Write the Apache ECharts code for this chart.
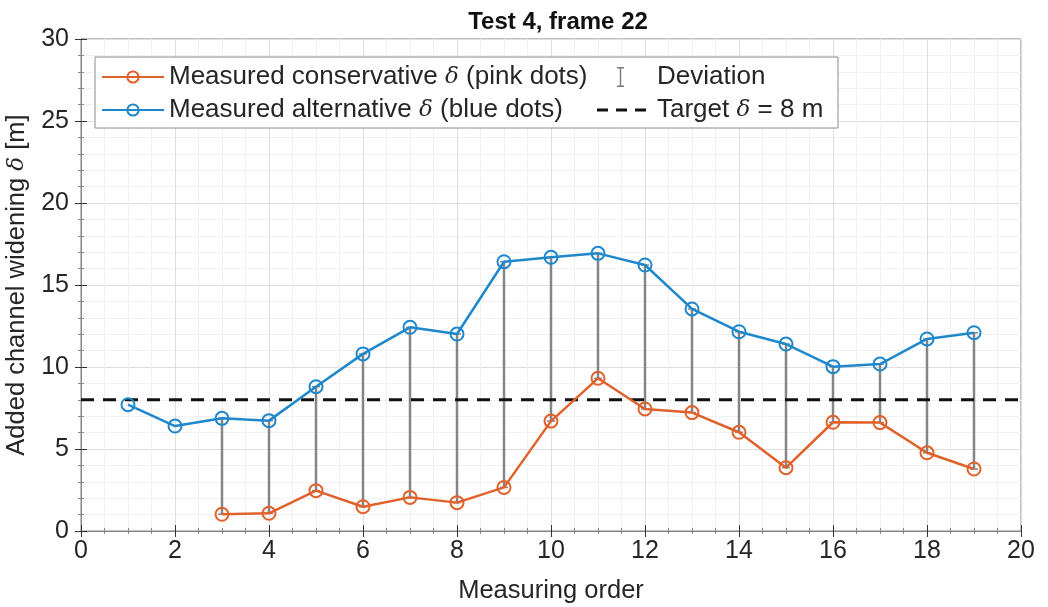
<!DOCTYPE html>
<html>
<head>
<meta charset="utf-8">
<script src="https://cdn.jsdelivr.net/npm/echarts@6/dist/echarts.min.js"></script>
<style>html,body{margin:0;padding:0;background:#fff}#c{width:1048px;height:607px}</style>
</head>
<body>
<div id="c"></div>
<script>
// ---- data ----
const order = [1,2,3,4,5,6,7,8,9,10,11,12,13,14,15,16,17,18,19];
const alternative = [7.7,6.4,6.87,6.73,8.8,10.8,12.42,12.01,16.42,16.69,16.93,16.22,13.54,12.15,11.4,10.02,10.18,11.71,12.09];
const conservative = [null,null,1.02,1.08,2.46,1.48,2.05,1.73,2.66,6.7,9.31,7.44,7.22,6.02,3.86,6.63,6.61,4.77,3.78];
const target = 8;
const xTicks = [0,2,4,6,8,10,12,14,16,18,20];
const yTicks = [0,5,10,15,20,25,30];

const ORANGE = '#E0612B', BLUE = '#1F87CB', GRAY = '#858585', TXT = '#262626';
const FONT = 'Liberation Sans, Arial, sans-serif';
const FS_TICK = 25, FS_NAME = 25.5, FS_LEG = 26;

const altData = order.map((x,i)=>[x, alternative[i]]);
const conData = order.map((x,i)=>conservative[i]==null ? null : [x, conservative[i]]).filter(d=>d);
const devData = order.map((x,i)=>conservative[i]==null ? null : [x, conservative[i], alternative[i]]).filter(d=>d);
const tgtData = [[xTicks[0], target],[xTicks[xTicks.length-1], target]];

const chart = echarts.init(document.getElementById('c'), null, {renderer:'canvas'});
const richL = {i:{fontFamily:'DejaVu Serif, Liberation Serif, serif', fontStyle:'italic', fontSize:23, color:TXT}};
const iconDev = 'path://M0,0L0.01,0L0,0.01Z M56,22L55.99,22L56,21.99Z M21,1H28V2.4H25.2V19.6H28V21H21V19.6H23.8V2.4H21Z';
const iconTgt = 'path://M0,0L0.01,0L0,0.01Z M56,22L55.99,22L56,21.99Z M1,9.5H12V12.5H1Z M20,9.5H31V12.5H20Z M39,9.5H50V12.5H39Z';

const baseX = {
  type:'value', min:0, max:20, interval:2,
  axisLine:{show:true, lineStyle:{color:GRAY}},
  axisTick:{show:true, inside:true, length:6, lineStyle:{color:'#333'}},
  minorTick:{show:true, splitNumber:4, length:3, lineStyle:{color:'#888'}},
};
const baseY = {
  type:'value', min:0, max:30, interval:5,
  axisLine:{show:true, lineStyle:{color:GRAY}},
  axisTick:{show:true, inside:true, length:6, lineStyle:{color:'#333'}},
  minorTick:{show:true, splitNumber:5, length:3, lineStyle:{color:'#888'}},
};

chart.setOption({
  animation:false,
  backgroundColor:'#fff',
  title:{text:'Test 4, frame 22', left:553, textAlign:'center', top:5,
    textStyle:{fontFamily:FONT, fontSize:24, fontWeight:'bold', color:'#111'}},
  grid:{left:81, right:27, top:39, bottom:76, show:true, borderColor:GRAY, borderWidth:1,
    containLabel:false, outerBoundsMode:'none'},
  xAxis:[
    Object.assign({}, baseX, {position:'bottom',
      name:'Measuring order', nameLocation:'middle', nameGap:47,
      nameTextStyle:{fontFamily:FONT, fontSize:FS_NAME, color:TXT},
      axisLabel:{fontFamily:FONT, fontSize:FS_TICK, color:TXT, margin:8},
      splitLine:{show:true, lineStyle:{color:'#dedede'}},
      minorSplitLine:{show:true, lineStyle:{color:'#f1f1f1'}}}),
    Object.assign({}, baseX, {position:'top', axisLabel:{show:false}, splitLine:{show:false}})
  ],
  yAxis:[
    Object.assign({}, baseY, {position:'left',
      name:'Added channel widening {i|δ} [m]', nameLocation:'middle', nameGap:47, nameRotate:90,
      nameTextStyle:{fontFamily:FONT, fontSize:FS_NAME, color:TXT, rich:richL},
      axisLabel:{fontFamily:FONT, fontSize:FS_TICK, color:TXT, margin:12},
      splitLine:{show:true, lineStyle:{color:'#dedede'}},
      minorSplitLine:{show:true, lineStyle:{color:'#f1f1f1'}}}),
    Object.assign({}, baseY, {position:'right', axisLabel:{show:false}, splitLine:{show:false}})
  ],
  graphic:[{type:'rect', z:3, shape:{x:95, y:57, width:743, height:71},
    style:{fill:'#fff', stroke:'#8a8a8a', lineWidth:1}}],
  legend:[
    {left:96, top:59, orient:'vertical', itemGap:7, itemWidth:62, itemHeight:14, z:5,
      textStyle:{fontFamily:FONT, fontSize:FS_LEG, lineHeight:26, color:TXT, rich:richL},
      formatter:n=>n.replace('δ','{i|δ}'),
      data:['Measured conservative δ (pink dots)','Measured alternative δ (blue dots)']},
    {left:591, top:59, orient:'vertical', itemGap:7, itemWidth:56, itemHeight:22, z:5,
      textStyle:{fontFamily:FONT, fontSize:FS_LEG, lineHeight:26, color:TXT, rich:richL},
      formatter:n=>n.replace('δ','{i|δ}'),
      data:[{name:'Deviation', icon:iconDev, itemStyle:{color:'#7a7a7a'}},
            {name:'Target δ = 8 m', icon:iconTgt, itemStyle:{color:'#111'}}]}
  ],
  series:[
    {name:'Deviation', type:'custom', z:2, data:devData,
      itemStyle:{color:GRAY},
      renderItem:(params, api)=>{
        const lo = api.coord([api.value(0), api.value(1)]);
        const hi = api.coord([api.value(0), api.value(2)]);
        const st = {stroke:GRAY, lineWidth:2.5};
        return {type:'group', children:[
          {type:'line', shape:{x1:lo[0], y1:lo[1], x2:hi[0], y2:hi[1]}, style:st},
          {type:'line', shape:{x1:lo[0]-4, y1:lo[1], x2:lo[0]+4, y2:lo[1]}, style:{stroke:GRAY, lineWidth:1.5}},
          {type:'line', shape:{x1:hi[0]-4, y1:hi[1], x2:hi[0]+4, y2:hi[1]}, style:{stroke:GRAY, lineWidth:1.5}}
        ]};
      }},
    {name:'Target δ = 8 m', type:'line', z:3, data:tgtData, symbol:'none',
      lineStyle:{color:'#111', width:3, type:[13,9]}, itemStyle:{color:'#111'}},
    {name:'Measured conservative δ (pink dots)', type:'line', z:4, data:conData,
      symbol:'circle', symbolSize:13,
      lineStyle:{color:ORANGE, width:2.5},
      itemStyle:{color:'rgba(255,255,255,0)', borderColor:ORANGE, borderWidth:2}},
    {name:'Measured alternative δ (blue dots)', type:'line', z:4, data:altData,
      symbol:'circle', symbolSize:13,
      lineStyle:{color:BLUE, width:2.5},
      itemStyle:{color:'rgba(255,255,255,0)', borderColor:BLUE, borderWidth:2}}
  ]
});
</script>
</body>
</html>
